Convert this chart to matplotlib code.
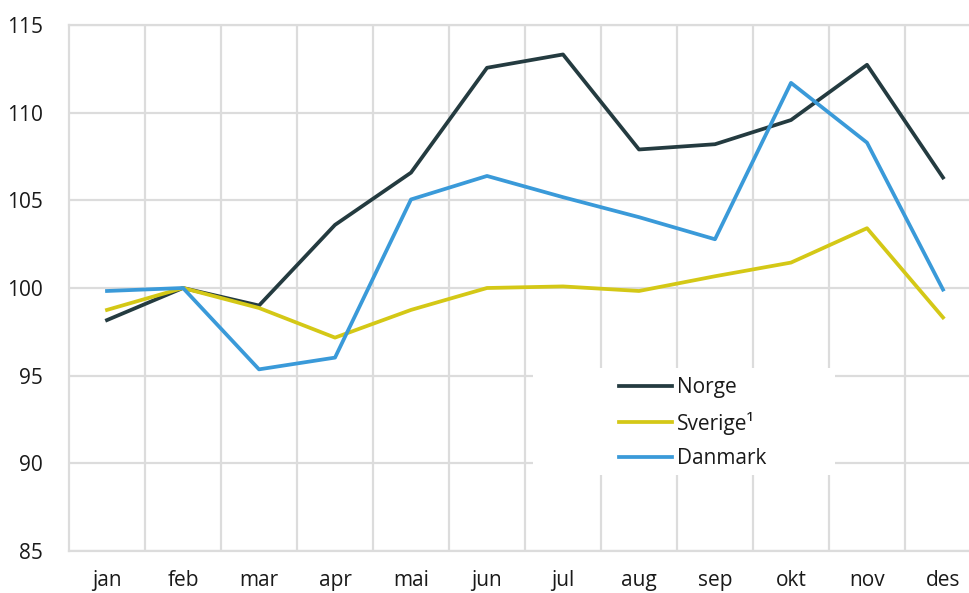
import matplotlib.pyplot as plt
import numpy as np
from matplotlib.patches import Rectangle

plt.rcParams['font.family'] = ['Open Sans', 'DejaVu Sans']

months = ['jan', 'feb', 'mar', 'apr', 'mai', 'jun', 'jul', 'aug', 'sep', 'okt', 'nov', 'des']
norge = [98.17, 100.0, 99.0, 103.6, 106.58, 112.56, 113.32, 107.9, 108.2, 109.58, 112.73, 106.3]
sverige = [98.75, 100.0, 98.86, 97.17, 98.75, 100.0, 100.09, 99.83, 100.67, 101.45, 103.41, 98.32]
danmark = [99.83, 100.0, 95.36, 96.03, 105.05, 106.39, 105.18, 104.04, 102.78, 111.7, 108.29, 99.91]
y_ticks = [85, 90, 95, 100, 105, 110, 115]

grid_col = '#dcdcdc'
W, H = 969, 593

fig = plt.figure(figsize=(W / 100, H / 100), dpi=100)
ax = fig.add_axes([69 / W, 1 - 551 / H, (981 - 69) / W, (551 - 25) / H])

x = np.arange(len(months))
ax.plot(x, norge, color='#243b40', lw=2.7, label='Norge', zorder=3)
ax.plot(x, sverige, color='#d4c816', lw=2.7, label='Sverige¹', zorder=3)
ax.plot(x, danmark, color='#3a9ad9', lw=2.7, label='Danmark', zorder=3)

ax.set_xlim(-0.5, len(months) - 0.5)
ax.set_ylim(85, 115)
ax.set_yticks(y_ticks)
ax.set_xticks(x)
ax.set_xticklabels(months)
ax.set_xticks(np.arange(0.5, len(months) - 0.5, 1), minor=True)

ax.grid(axis='y', which='major', color=grid_col, lw=1.6, zorder=0)
ax.grid(axis='x', which='minor', color=grid_col, lw=1.6, zorder=0)
ax.tick_params(which='both', length=0)
ax.tick_params(axis='y', pad=19, labelsize=15, labelcolor='#1a1a1a')
ax.tick_params(axis='x', pad=14, labelsize=15, labelcolor='#1a1a1a')

for side in ['left', 'top', 'bottom']:
    ax.spines[side].set_color(grid_col)
    ax.spines[side].set_linewidth(1.6)
ax.spines['right'].set_visible(False)

# white legend background, no border
bg = Rectangle((533 / W, 1 - 475 / H), (835 - 533) / W, (475 - 368) / H,
               transform=fig.transFigure, facecolor='white', edgecolor='none',
               zorder=2, clip_on=False)
ax.add_patch(bg)

leg = ax.legend(loc='upper left', bbox_to_anchor=(619 / W, 1 - 377 / H),
                bbox_transform=fig.transFigure, frameon=False, fontsize=15,
                handlelength=2.55, handletextpad=0.25, labelspacing=0.66,
                borderpad=0, borderaxespad=0)
for t in leg.get_texts():
    t.set_color('#1a1a1a')
leg.set_zorder(4)

fig.savefig('out.png', dpi=100)
